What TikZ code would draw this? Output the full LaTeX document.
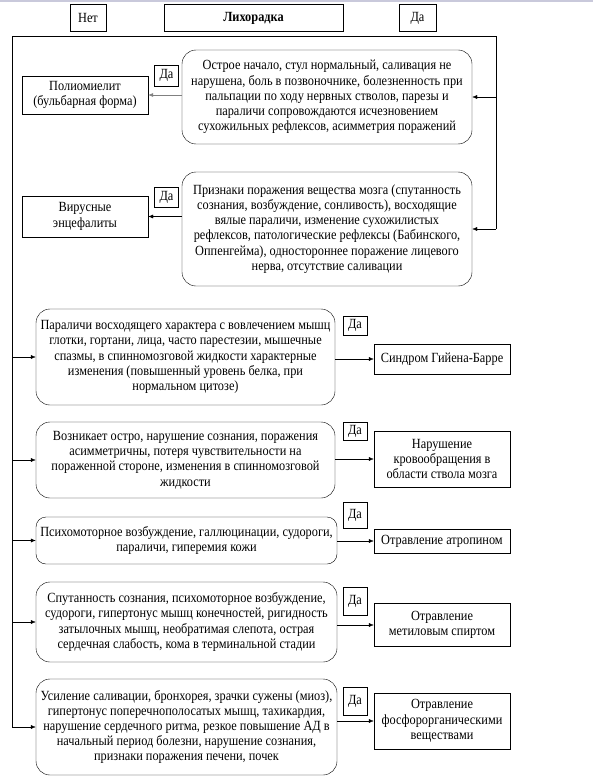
\documentclass[tikz,border=0pt]{standalone}
\usepackage{fontspec}
\setmainfont[FakeStretch=0.88]{Liberation Serif}
\usetikzlibrary{arrows.meta}
\usetikzlibrary{positioning}
\tikzset{sign/.style={rectangle, rounded corners=14pt, draw, thin, align=center, inner sep=1pt}}
\tikzset{diag/.style={rectangle, draw, thin, align=center, inner sep=1pt}}
\tikzset{yes/.style={rectangle, draw, thin, minimum width=24pt, inner sep=0pt}}
\tikzset{link/.style={-{Latex[length=5pt,width=4pt]}, thin}}
\tikzset{txt/.style={font=\fontsize{14}{15.2}\selectfont}}

\begin{document}
\begin{tikzpicture}[x=1pt, y=-1pt, txt]

    \useasboundingbox (0,0) rectangle (593,781);
    \fill[blue!20!gray!35] (0,0) rectangle (593,2.5);

    % header
    \node[diag, minimum width=36pt, minimum height=27pt] (no) at (88,18) {Нет};
    \node[diag, minimum width=179pt, minimum height=27pt, font=\fontsize{14}{15.2}\selectfont\bfseries] (fever) at (253.5,18) {Лихорадка};
    \node[diag, minimum width=37pt, minimum height=27pt] (da) at (417.5,18) {Да};

    \coordinate (tl) at (12,36);
    \coordinate (tr) at (496,36);

    % upper branch
    \node[sign, minimum width=290pt, minimum height=94pt] (s1) at (327,97)
      {Острое начало, стул нормальный, саливация не\\ нарушена, боль в позвоночнике, болезненность при\\ пальпации по ходу нервных стволов, парезы и\\ параличи сопровождаются исчезновением\\ сухожильных рефлексов, асимметрия поражений};
    \node[diag, minimum width=126pt, minimum height=38pt] (d1) at (85,95) {Полиомиелит\\ (бульбарная форма)};
    \node[yes, minimum height=21pt] (y1) at (166.5,75.5) {Да};

    \node[sign, minimum width=290pt, minimum height=114pt] (s2) at (327,229)
      {Признаки поражения вещества мозга (спутанность\\ сознания, возбуждение, сонливость), восходящие\\ вялые параличи, изменение сухожилистых\\ рефлексов, патологические рефлексы (Бабинского,\\ Оппенгейма), одностороннее поражение лицевого\\ нерва, отсутствие саливации};
    \node[diag, minimum width=126pt, minimum height=41pt] (d2) at (85,216.5) {Вирусные\\ энцефалиты};
    \node[yes, minimum height=20pt] (y2) at (166.5,197.5) {Да};

    % lower branch
    \node[sign, minimum width=299pt, minimum height=96pt] (s3) at (185.5,357)
      {Параличи восходящего характера с вовлечением мышц\\ глотки, гортани, лица, часто парестезии, мышечные\\ спазмы, в спинномозговой жидкости характерные\\ изменения (повышенный уровень белка, при\\ нормальном цитозе)};
    \node[diag, minimum width=136pt, minimum height=30pt] (d3) at (442,359) {Синдром Гийена-Барре};
    \node[yes, minimum height=19pt] (y3) at (355,325.5) {Да};

    \node[sign, minimum width=299pt, minimum height=76pt] (s4) at (185.5,460)
      {Возникает остро, нарушение сознания, поражения\\ асимметричны, потеря чувствительности на\\ пораженной стороне, изменения в спинномозговой\\ жидкости};
    \node[diag, minimum width=136pt, minimum height=56pt] (d4) at (442,459) {Нарушение\\ кровообращения в\\ области ствола мозга};
    \node[yes, minimum height=18pt] (y4) at (355,431) {Да};

    \node[sign, minimum width=301pt, minimum height=47pt, rounded corners=10pt] (s5) at (186.5,540.5)
      {Психомоторное возбуждение, галлюцинации, судороги,\\ параличи, гиперемия кожи};
    \node[diag, minimum width=136pt, minimum height=24pt] (d5) at (442,541) {Отравление атропином};
    \node[yes, minimum height=26pt] (y5) at (355,515) {Да};

    \node[sign, minimum width=301pt, minimum height=80pt] (s6) at (186.5,622)
      {Спутанность сознания, психомоторное возбуждение,\\ судороги, гипертонус мышц конечностей, ригидность\\ затылочных мышц, необратимая слепота, острая\\ сердечная слабость, кома в терминальной стадии};
    \node[diag, minimum width=136pt, minimum height=43pt] (d6) at (442,625) {Отравление\\ метиловым спиртом};
    \node[yes, minimum height=28pt] (y6) at (355,601) {Да};

    \node[sign, minimum width=301pt, minimum height=96pt] (s7) at (186.5,727)
      {Усиление саливации, бронхорея, зрачки сужены (миоз),\\ гипертонус поперечнополосатых мышц, тахикардия,\\ нарушение сердечного ритма, резкое повышение АД в\\ начальный период болезни, нарушение сознания,\\ признаки поражения печени, почек};
    \node[diag, minimum width=136pt, minimum height=56pt] (d7) at (442,721) {Отравление\\ фосфорорганическими\\ веществами};
    \node[yes, minimum height=28pt] (y7) at (355,701) {Да};

    % frame
    \draw[thin] (tl |- s7.west) -- (tl) -- (tr) -- (tr |- s2.east);
    \draw[link] (tr |- s1.east) -- (s1.east);
    \draw[link] (tr |- s2.east) -- (s2.east);
    \draw[link, gray, semithick] (s1.west |- d1.east) -- (d1.east);
    \draw[link] (s2.west |- d2.east) -- (d2.east);
    \foreach \k in {3,...,7} {
      \draw[link] (tl |- s\k.west) -- (s\k.west);
      \draw[link] (s\k.east |- d\k.west) -- (d\k.west);
    }

\end{tikzpicture}
\end{document}
